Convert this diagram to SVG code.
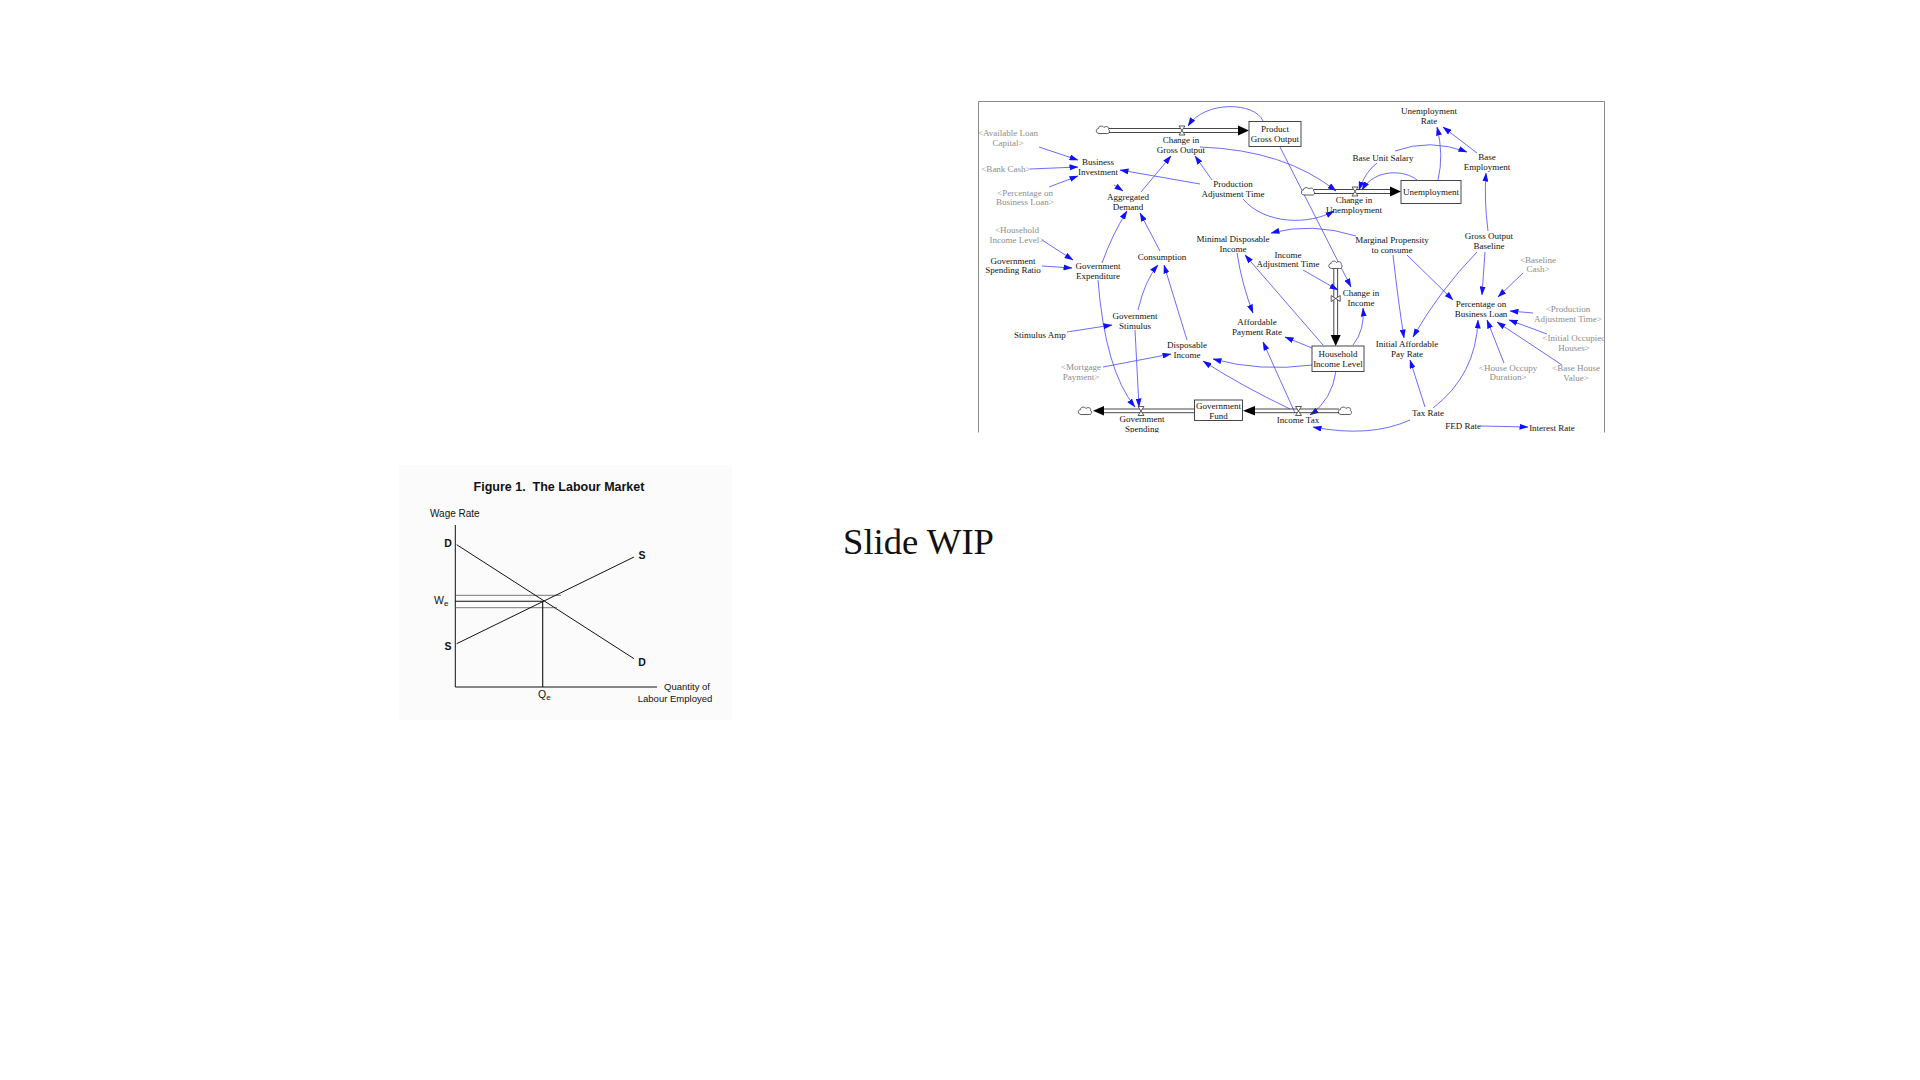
<svg xmlns="http://www.w3.org/2000/svg" width="1920" height="1080" viewBox="0 0 1920 1080">
<style>
.t{font-family:"Liberation Serif","Times New Roman",serif;font-size:9px;text-anchor:middle;fill:#111}
.g{font-family:"Liberation Serif","Times New Roman",serif;font-size:9px;text-anchor:middle;fill:#8c8c8c}
.c{fill:none;stroke:#5b5bff;stroke-width:0.9;marker-end:url(#ab)}
.p{fill:none;stroke:#333;stroke-width:0.9}
.box{fill:#fff;stroke:#333;stroke-width:0.9}
.f{font-family:"Liberation Sans",Arial,sans-serif;fill:#111}
.ax{stroke:#111;stroke-width:1;fill:none}
</style>
<defs>
<marker id="ab" markerWidth="9" markerHeight="6" refX="8.5" refY="3" orient="auto" markerUnits="userSpaceOnUse"><path d="M0,0 L9,3 L0,6 Z" fill="#1010ff"/></marker>
<g id="cloud"><path d="M-4,3.5 C-7.5,3.5 -7.5,-1.5 -4.5,-1.5 C-4.5,-4.5 0,-4.5 1,-2.5 C3,-4.5 6.5,-3 5.5,-0.5 C7.5,0.5 6.5,4 4,3.5 Z" fill="#fff" stroke="#333" stroke-width="0.8"/></g>
<g id="valveH"><path d="M-3,-4.5 L3,-4.5 L-3,4.5 L3,4.5 Z" fill="#fff" stroke="#333" stroke-width="0.8"/></g>
<g id="valveV"><path d="M-4.5,-3 L-4.5,3 L4.5,-3 L4.5,3 Z" fill="#fff" stroke="#333" stroke-width="0.8"/></g>
<clipPath id="clipSD"><rect x="978" y="101" width="627" height="331.5"/></clipPath>
</defs>
<rect width="1920" height="1080" fill="#fff"/>

<!-- System dynamics panel -->
<g id="sd-panel" clip-path="url(#clipSD)">
<rect x="978" y="101" width="627" height="332" fill="#fff"/>

<g id="connectors">
<path class="c" d="M1039,147 L1078,160"/>
<path class="c" d="M1030,169 L1078,167"/>
<path class="c" d="M1049,187 L1078,176"/>
<path class="c" d="M1114,185 L1123,191"/>
<path class="c" d="M1141,192 L1171,156"/>
<path class="c" d="M1200,184 L1120,170"/>
<path class="c" d="M1212,180 L1195,156"/>
<path class="c" d="M1200,147 Q1285,150 1336,191"/>
<path class="c" d="M1243,199 C1265,225 1310,225 1334,211"/>
<path class="c" d="M1263,121 C1255,102 1205,100 1188,126"/>
<path class="c" d="M1280,147 L1351,287"/>
<path class="c" d="M1303,270 L1338,290"/>
<path class="c" d="M1356,236 Q1312,222 1271,233"/>
<path class="c" d="M1407,255 L1453,300"/>
<path class="c" d="M1393,255 Q1398,300 1404,338"/>
<path class="c" d="M1488,231 Q1484,200 1486,173"/>
<path class="c" d="M1485,252 L1482,295"/>
<path class="c" d="M1477,252 Q1440,290 1413,337"/>
<path class="c" d="M1523,273 L1498,297"/>
<path class="c" d="M1533,313 L1510,311"/>
<path class="c" d="M1547,334 L1509,320"/>
<path class="c" d="M1562,365 L1497,322"/>
<path class="c" d="M1504,363 L1487,320"/>
<path class="c" d="M1433,408 Q1476,375 1478,320"/>
<path class="c" d="M1425,407 L1410,360"/>
<path class="c" d="M1410,420 Q1370,438 1313,427"/>
<path class="c" d="M1481,426 L1528,427"/>
<path class="c" d="M1377,163 Q1365,172 1359,190"/>
<path class="c" d="M1395,151 Q1430,138 1467,152"/>
<path class="c" d="M1417,180 C1405,170 1375,168 1362,190"/>
<path class="c" d="M1438,180 Q1444,155 1437,127"/>
<path class="c" d="M1477,153 L1443,127"/>
<path class="c" d="M1312,348 L1285,337"/>
<path class="c" d="M1323,345 L1245,255"/>
<path class="c" d="M1312,365 Q1260,372 1213,359"/>
<path class="c" d="M1353,345 Q1365,330 1363,308"/>
<path class="c" d="M1336,371 Q1332,400 1310,415"/>
<path class="c" d="M1237,253 Q1242,285 1253,313"/>
<path class="c" d="M1295,413 L1263,342"/>
<path class="c" d="M1290,409 Q1240,385 1203,361"/>
<path class="c" d="M1187,340 L1164,265"/>
<path class="c" d="M1138,310 Q1145,280 1158,265"/>
<path class="c" d="M1160,251 L1140,213"/>
<path class="c" d="M1102,263 Q1112,235 1127,211"/>
<path class="c" d="M1042,240 L1073,260"/>
<path class="c" d="M1042,266 L1072,268"/>
<path class="c" d="M1098,280 Q1105,370 1135,407"/>
<path class="c" d="M1135,330 L1139,407"/>
<path class="c" d="M1067,332 L1112,325"/>
<path class="c" d="M1103,367 L1171,354"/>
</g>

<!-- flows -->
<g id="flow-gross-output">
<use href="#cloud" x="1103" y="130"/>
<path class="p" d="M1109,128.5 H1239 M1109,132.5 H1239"/>
<path d="M1238,125.5 L1249,130.5 L1238,135.5 Z" fill="#000"/>
<use href="#valveH" x="1182" y="130.5"/>
</g>
<g id="flow-unemployment">
<use href="#cloud" x="1308" y="191.5"/>
<path class="p" d="M1314,189.5 H1391 M1314,193.5 H1391"/>
<path d="M1390,186.5 L1401,191.5 L1390,196.5 Z" fill="#000"/>
<use href="#valveH" x="1355" y="191.5"/>
</g>
<g id="flow-income">
<use href="#cloud" x="1335.5" y="265"/>
<path class="p" d="M1333.8,269 V336 M1337.6,269 V336"/>
<path d="M1330.7,335 L1335.7,346 L1340.7,335 Z" fill="#000"/>
<use href="#valveV" x="1335.7" y="298.5"/>
</g>
<g id="flow-gov-spending">
<use href="#cloud" x="1085" y="411"/>
<path class="p" d="M1102,409 H1195 M1102,412.7 H1195"/>
<path d="M1104,406 L1093,410.8 L1104,415.6 Z" fill="#000"/>
<use href="#valveH" x="1141" y="411"/>
</g>
<g id="flow-income-tax">
<use href="#cloud" x="1345" y="411"/>
<path class="p" d="M1254,409 H1339 M1254,412.7 H1339"/>
<path d="M1255,406 L1243,410.8 L1255,415.6 Z" fill="#000"/>
<use href="#valveH" x="1298.5" y="411"/>
</g>

<!-- stocks -->
<g id="product-gross-output"><rect class="box" x="1249" y="121.5" width="52" height="25"/><text class="t" x="1275" y="132">Product</text><text class="t" x="1275" y="142">Gross Output</text></g>
<g id="unemployment"><rect class="box" x="1401" y="180.5" width="60" height="23"/><text class="t" x="1431" y="195">Unemployment</text></g>
<g id="household-income-level"><rect class="box" x="1312" y="346" width="52" height="25.5"/><text class="t" x="1338" y="357">Household</text><text class="t" x="1338" y="367">Income Level</text></g>
<g id="government-fund"><rect class="box" x="1194.5" y="400" width="48" height="20.5"/><text class="t" x="1218.5" y="409">Government</text><text class="t" x="1218.5" y="418.5">Fund</text></g>

<!-- shadow variables -->
<g id="sh-available-loan-capital"><text class="g" x="1008" y="136">&lt;Available Loan</text><text class="g" x="1008" y="146">Capital&gt;</text></g>
<g id="sh-bank-cash"><text class="g" x="1006" y="172">&lt;Bank Cash&gt;</text></g>
<g id="sh-percentage-on-business-loan"><text class="g" x="1025" y="196">&lt;Percentage on</text><text class="g" x="1025" y="205">Business Loan&gt;</text></g>
<g id="sh-household-income-level"><text class="g" x="1017" y="233">&lt;Household</text><text class="g" x="1017" y="243">Income Level&gt;</text></g>
<g id="sh-mortgage-payment"><text class="g" x="1081" y="370">&lt;Mortgage</text><text class="g" x="1081" y="380">Payment&gt;</text></g>
<g id="sh-baseline-cash"><text class="g" x="1538" y="263">&lt;Baseline</text><text class="g" x="1538" y="272">Cash&gt;</text></g>
<g id="sh-production-adjustment-time"><text class="g" x="1568" y="312">&lt;Production</text><text class="g" x="1568" y="322">Adjustment Time&gt;</text></g>
<g id="sh-initial-occupied-houses"><text class="g" x="1574" y="341">&lt;Initial Occupied</text><text class="g" x="1574" y="351">Houses&gt;</text></g>
<g id="sh-house-occupy-duration"><text class="g" x="1508" y="371">&lt;House Occupy</text><text class="g" x="1508" y="380">Duration&gt;</text></g>
<g id="sh-base-house-value"><text class="g" x="1576" y="371">&lt;Base House</text><text class="g" x="1576" y="381">Value&gt;</text></g>

<!-- variables -->
<g id="business-investment"><text class="t" x="1098" y="165">Business</text><text class="t" x="1098" y="175">Investment</text></g>
<g id="aggregated-demand"><text class="t" x="1128" y="200">Aggregated</text><text class="t" x="1128" y="210">Demand</text></g>
<g id="change-in-gross-output"><text class="t" x="1181" y="143">Change in</text><text class="t" x="1181" y="153">Gross Output</text></g>
<g id="production-adjustment-time"><text class="t" x="1233" y="187">Production</text><text class="t" x="1233" y="197">Adjustment Time</text></g>
<g id="unemployment-rate"><text class="t" x="1429" y="114">Unemployment</text><text class="t" x="1429" y="124">Rate</text></g>
<g id="base-unit-salary"><text class="t" x="1383" y="161">Base Unit Salary</text></g>
<g id="base-employment"><text class="t" x="1487" y="160">Base</text><text class="t" x="1487" y="170">Employment</text></g>
<g id="change-in-unemployment"><text class="t" x="1354" y="203">Change in</text><text class="t" x="1354" y="213">Unemployment</text></g>
<g id="minimal-disposable-income"><text class="t" x="1233" y="242">Minimal Disposable</text><text class="t" x="1233" y="252">Income</text></g>
<g id="income-adjustment-time"><text class="t" x="1288" y="258">Income</text><text class="t" x="1288" y="267">Adjustment Time</text></g>
<g id="marginal-propensity"><text class="t" x="1392" y="243">Marginal Propensity</text><text class="t" x="1392" y="253">to consume</text></g>
<g id="gross-output-baseline"><text class="t" x="1489" y="239">Gross Output</text><text class="t" x="1489" y="249">Baseline</text></g>
<g id="government-spending-ratio"><text class="t" x="1013" y="264">Government</text><text class="t" x="1013" y="273">Spending Ratio</text></g>
<g id="government-expenditure"><text class="t" x="1098" y="269">Government</text><text class="t" x="1098" y="279">Expenditure</text></g>
<g id="consumption"><text class="t" x="1162" y="260">Consumption</text></g>
<g id="change-in-income"><text class="t" x="1361" y="296">Change in</text><text class="t" x="1361" y="306">Income</text></g>
<g id="affordable-payment-rate"><text class="t" x="1257" y="325">Affordable</text><text class="t" x="1257" y="335">Payment Rate</text></g>
<g id="percentage-on-business-loan"><text class="t" x="1481" y="307">Percentage on</text><text class="t" x="1481" y="317">Business Loan</text></g>
<g id="stimulus-amp"><text class="t" x="1040" y="338">Stimulus Amp</text></g>
<g id="government-stimulus"><text class="t" x="1135" y="319">Government</text><text class="t" x="1135" y="329">Stimulus</text></g>
<g id="disposable-income"><text class="t" x="1187" y="348">Disposable</text><text class="t" x="1187" y="358">Income</text></g>
<g id="initial-affordable-pay-rate"><text class="t" x="1407" y="347">Initial Affordable</text><text class="t" x="1407" y="357">Pay Rate</text></g>
<g id="income-tax"><text class="t" x="1298" y="423">Income Tax</text></g>
<g id="government-spending"><text class="t" x="1142" y="422">Government</text><text class="t" x="1142" y="432">Spending</text></g>
<g id="tax-rate"><text class="t" x="1428" y="416">Tax Rate</text></g>
<g id="fed-rate"><text class="t" x="1463" y="429">FED Rate</text></g>
<g id="interest-rate"><text class="t" x="1552" y="431">Interest Rate</text></g>
</g>
<path d="M978.5,432.5 V101.5 H1604.5 V432.5" fill="none" stroke="#8a8a8a" stroke-width="1"/>

<!-- Labour market figure -->
<g id="labour-market">
<rect x="399" y="465" width="333" height="255" fill="#fbfbfb"/>
<text class="f" x="559" y="491" font-size="12.5" font-weight="bold" text-anchor="middle" xml:space="preserve">Figure 1.  The Labour Market</text>
<text class="f" x="430" y="517" font-size="10">Wage Rate</text>
<path class="ax" d="M455.3,525 V687 H657"/>
<path d="M455.3,595.3 H561 M455.3,607.7 H557" stroke="#555" stroke-width="0.8"/>
<path d="M455.3,601.3 H542.7 V687" stroke="#111" stroke-width="1.1" fill="none"/>
<path class="ax" d="M456.7,544.7 L634,658.7"/>
<path class="ax" d="M456.7,643.7 L634,557"/>
<text class="f" x="448" y="547" font-size="10.5" font-weight="bold" text-anchor="middle">D</text>
<text class="f" x="448" y="650" font-size="10.5" font-weight="bold" text-anchor="middle">S</text>
<text class="f" x="642" y="559" font-size="10.5" font-weight="bold" text-anchor="middle">S</text>
<text class="f" x="642" y="666" font-size="10.5" font-weight="bold" text-anchor="middle">D</text>
<text class="f" x="434" y="604" font-size="10.5">W<tspan font-size="8" dy="2">e</tspan></text>
<text class="f" x="538" y="698" font-size="10.5">Q<tspan font-size="8" dy="2">e</tspan></text>
<text class="f" x="687" y="690" font-size="9.5" text-anchor="middle">Quantity of</text>
<text class="f" x="675" y="702" font-size="9.5" text-anchor="middle">Labour Employed</text>
</g>

<g id="slide-title">
<text x="843" y="554" font-family="'Liberation Serif','Times New Roman',serif" font-size="36" fill="#111" textLength="151" lengthAdjust="spacingAndGlyphs">Slide WIP</text>
</g>
</svg>
